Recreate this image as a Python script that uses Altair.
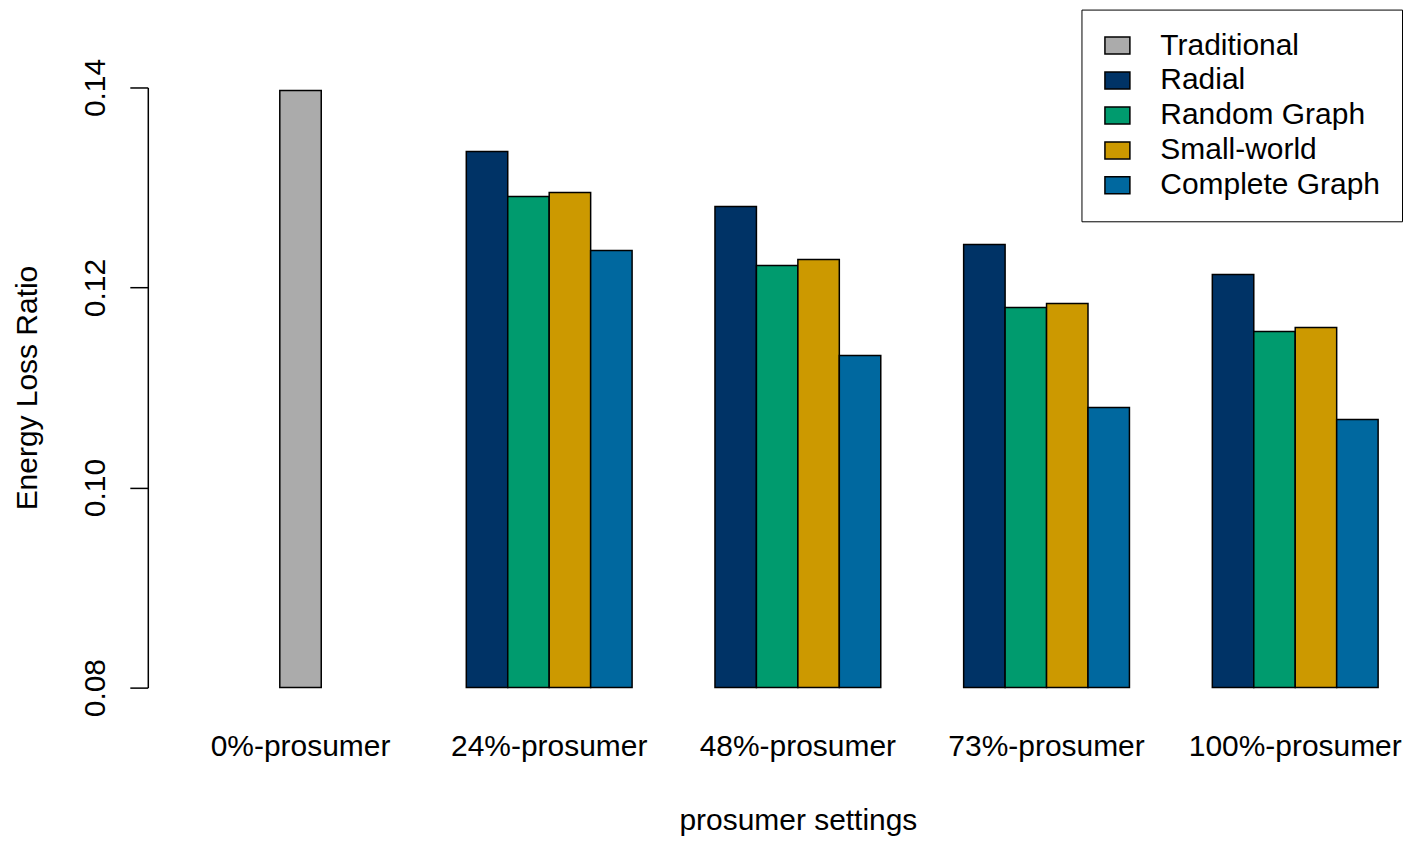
import altair as alt
import pandas as pd

groups = ["0%-prosumer", "24%-prosumer", "48%-prosumer", "73%-prosumer", "100%-prosumer"]
series = ["Traditional", "Radial", "Random Graph", "Small-world", "Complete Graph"]
colors = ["#ABABAB", "#003366", "#009B6E", "#CC9900", "#00689F"]

traditional = [0.1397]
radial = [0.1336, 0.1281, 0.1243, 0.1213]
random_graph = [0.1291, 0.1222, 0.1180, 0.1156]
small_world = [0.1295, 0.1228, 0.1184, 0.1160]
complete_graph = [0.1237, 0.1132, 0.1080, 0.1068]

trad_df = pd.DataFrame({"group": [groups[0]], "series": ["Traditional"], "value": traditional})
rows = []
for name, vals in zip(series[1:], [radial, random_graph, small_world, complete_graph]):
    for g, v in zip(groups[1:], vals):
        rows.append({"group": g, "series": name, "value": v})
net_df = pd.DataFrame(rows)

FONT = "Liberation Sans"
FS = 30

x_enc = alt.X(
    "group:N",
    sort=groups,
    scale=alt.Scale(domain=groups, paddingInner=0.3333, paddingOuter=0.08),
    axis=alt.Axis(
        title="prosumer settings", labelAngle=0, ticks=False, domain=False,
        labelPadding=44, titlePadding=44, labelLimit=400,
    ),
)
y_enc = alt.Y(
    "value:Q",
    scale=alt.Scale(domain=[0.08, 0.14], zero=False, nice=False),
    axis=alt.Axis(
        title="Energy Loss Ratio", values=[0.08, 0.10, 0.12, 0.14], format=".2f",
        offset=50, grid=False, tickSize=18, labelAngle=270, labelAlign="center",
        labelBaseline="bottom", labelPadding=19, titlePadding=38,
    ),
)
color_enc = alt.Color(
    "series:N",
    scale=alt.Scale(domain=series, range=colors),
    legend=alt.Legend(title=None, orient="none", legendX=885, legendY=-78, direction="vertical"),
)

bars_trad = alt.Chart(trad_df).mark_bar(
    width=alt.RelativeBandSize(0.25), stroke="black", strokeWidth=1.5, opacity=1
).encode(x=x_enc, y=y_enc, y2=alt.datum(0.08), color=color_enc)

bars_net = alt.Chart(net_df).mark_bar(stroke="black", strokeWidth=1.5, opacity=1).encode(
    x=x_enc,
    xOffset=alt.XOffset("series:N", sort=series[1:],
                        scale=alt.Scale(domain=series[1:], paddingInner=0, paddingOuter=0)),
    y=y_enc,
    y2=alt.datum(0.08),
    color=color_enc,
)

chart = (
    alt.layer(bars_trad, bars_net)
    .properties(
        width=1202, height=601,
        autosize=alt.AutoSizeParams(type="none"),
        padding={"left": 190, "top": 79, "right": 9, "bottom": 149},
    )
    .configure(font=FONT)
    .configure_view(strokeWidth=0)
    .configure_axis(
        labelFont=FONT, titleFont=FONT, labelFontSize=FS, titleFontSize=FS,
        labelColor="black", titleColor="black", titleFontWeight="normal",
        domainColor="black", tickColor="black", domainWidth=1.5, tickWidth=1.5,
    )
    .configure_legend(
        labelFont=FONT, labelFontSize=FS, labelColor="black", labelLimit=400,
        symbolType="M-1,-0.68L1,-0.68L1,0.68L-1,0.68Z", symbolSize=625,
        symbolStrokeColor="black", symbolStrokeWidth=1.5, symbolOpacity=1,
        strokeColor="black", fillColor="white", padding=21, rowPadding=5,
        labelOffset=28, cornerRadius=0,
    )
)

chart.save("out.html", embed_options={"renderer": "svg", "actions": False})
